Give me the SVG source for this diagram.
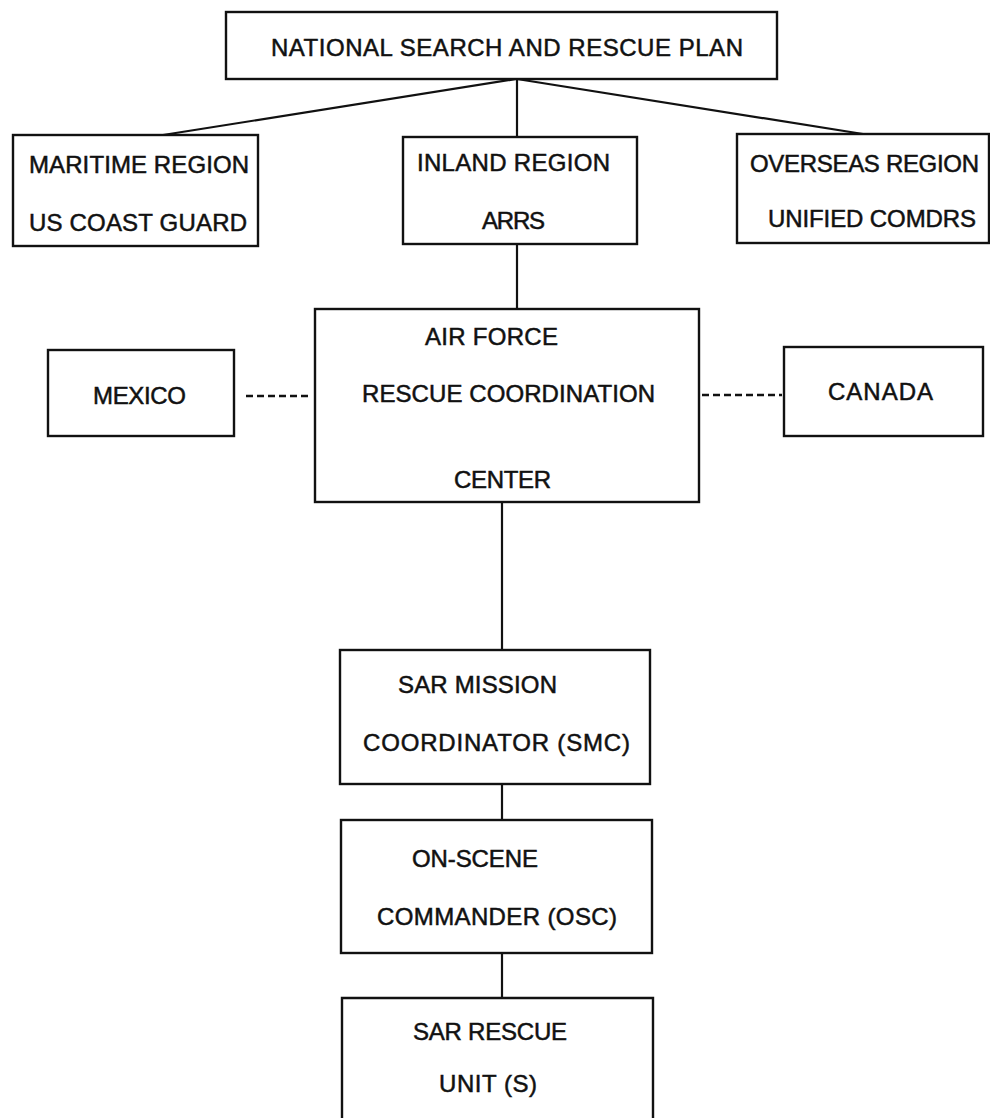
<svg xmlns="http://www.w3.org/2000/svg" width="990" height="1118" viewBox="0 0 990 1118">
<style>
.box{fill:#fff;stroke:#111;stroke-width:2.4}
.ln{stroke:#111;stroke-width:2.2;fill:none}
.dash{stroke:#111;stroke-width:2.6;stroke-dasharray:7 4;fill:none}
text{font-family:"Liberation Sans",Arial,sans-serif;font-size:24px;fill:#111;stroke:#111;stroke-width:0.5}
</style>
<rect width="990" height="1118" fill="#fff"/>
<g id="connectors">
<line class="ln" x1="516" y1="79" x2="163" y2="135"/>
<line class="ln" x1="517" y1="79" x2="517" y2="137"/>
<line class="ln" x1="517" y1="79" x2="863" y2="134"/>
<line class="ln" x1="517" y1="244" x2="517" y2="309"/>
<line class="dash" x1="246" y1="396" x2="312" y2="396"/>
<line class="dash" x1="702" y1="395" x2="782" y2="395"/>
<line class="ln" x1="502" y1="502" x2="502" y2="650"/>
<line class="ln" x1="502" y1="784" x2="502" y2="820"/>
<line class="ln" x1="502" y1="953" x2="502" y2="998"/>
</g>
<g id="nsrp">
<rect class="box" x="226" y="12" width="551" height="67"/>
<text x="271" y="56" textLength="472">NATIONAL SEARCH AND RESCUE PLAN</text>
</g>
<g id="maritime">
<rect class="box" x="13" y="135" width="245" height="111"/>
<text x="29" y="173" textLength="220">MARITIME REGION</text>
<text x="29" y="231" textLength="218">US COAST GUARD</text>
</g>
<g id="inland">
<rect class="box" x="403" y="137" width="234" height="107"/>
<text x="417" y="171" textLength="193">INLAND REGION</text>
<text x="482" y="229" textLength="63">ARRS</text>
</g>
<g id="overseas">
<rect class="box" x="737" y="134" width="252" height="109"/>
<text x="750" y="172" textLength="229">OVERSEAS REGION</text>
<text x="768" y="227" textLength="208">UNIFIED COMDRS</text>
</g>
<g id="rcc">
<rect class="box" x="315" y="309" width="384" height="193"/>
<text x="425" y="345" textLength="133">AIR FORCE</text>
<text x="362" y="402" textLength="293">RESCUE COORDINATION</text>
<text x="454" y="488" textLength="97">CENTER</text>
</g>
<g id="mexico">
<rect class="box" x="48" y="350" width="186" height="86"/>
<text x="93" y="404" textLength="93">MEXICO</text>
</g>
<g id="canada">
<rect class="box" x="784" y="347" width="199" height="89"/>
<text x="828" y="400" textLength="105">CANADA</text>
</g>
<g id="smc">
<rect class="box" x="340" y="650" width="310" height="134"/>
<text x="398" y="693" textLength="159">SAR MISSION</text>
<text x="363" y="751" textLength="267">COORDINATOR (SMC)</text>
</g>
<g id="osc">
<rect class="box" x="341" y="820" width="311" height="133"/>
<text x="412" y="867" textLength="126">ON-SCENE</text>
<text x="377" y="925" textLength="240">COMMANDER (OSC)</text>
</g>
<g id="rescue">
<path class="box" d="M342 1120 V998 H653 V1120"/>
<text x="413" y="1040" textLength="154">SAR RESCUE</text>
<text x="439" y="1092" textLength="98">UNIT (S)</text>
</g>
</svg>
